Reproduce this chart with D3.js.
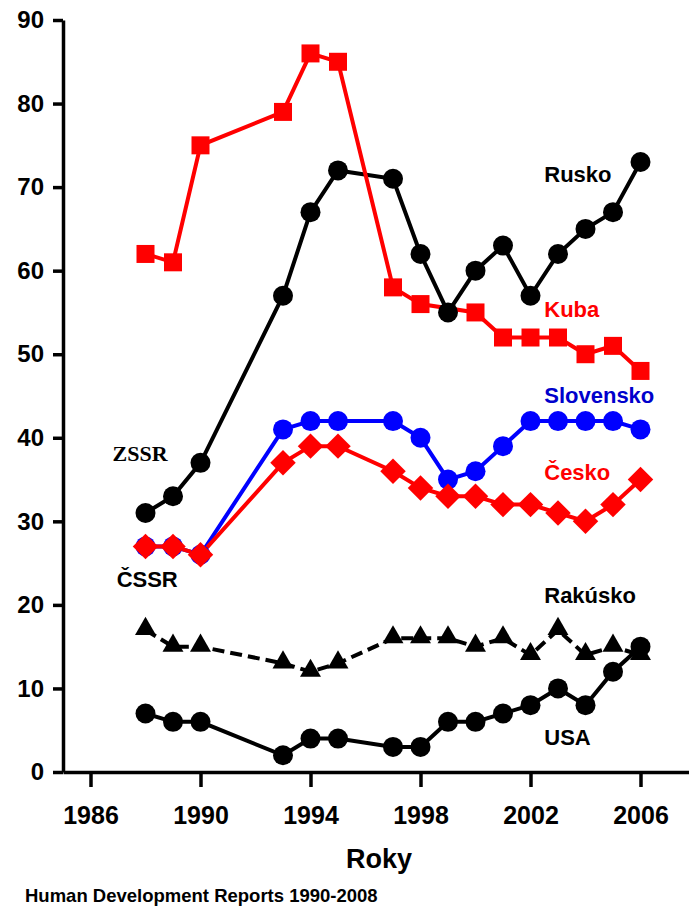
<!DOCTYPE html>
<html>
<head>
<meta charset="utf-8">
<script src="https://cdn.jsdelivr.net/npm/d3@7"></script>
<style>
  html, body { margin: 0; padding: 0; background: #fff; }
  svg { display: block; }
  text { font-family: "Liberation Sans", Arial, sans-serif; font-weight: bold; }
</style>
</head>
<body>
<svg id="chart" width="689" height="911"></svg>
<script>
// ---------- data ----------
const yearsMain = [1988, 1989, 1990, 1993, 1994, 1995, 1997, 1998, 1999, 2000, 2001, 2002, 2003, 2004, 2005, 2006];
const yearsKuba = [1988, 1989, 1990, 1993, 1994, 1995, 1997, 1998, 2000, 2001, 2002, 2003, 2004, 2005, 2006];

const kubaValues      = [62, 61, 75, 79, 86, 85, 58, 56, 55, 52, 52, 52, 50, 51, 48];
const ruskoValues     = [31, 33, 37, 57, 67, 72, 71, 62, 55, 60, 63, 57, 62, 65, 67, 73];
const slovenskoValues = [27, 27, 26, 41, 42, 42, 42, 40, 35, 36, 39, 42, 42, 42, 42, 41];
const ceskoValues     = [27, 27, 26, 37, 39, 39, 36, 34, 33, 33, 32, 32, 31, 30, 32, 35];
const rakuskoValues   = [17, 15, 15, 13, 12, 13, 16, 16, 16, 15, 16, 14, 17, 14, 15, 14];
const usaValues       = [7, 6, 6, 2, 4, 4, 3, 3, 6, 6, 7, 8, 10, 8, 12, 15];

const xTickValues = [1986, 1990, 1994, 1998, 2002, 2006];
const yTickValues = [0, 10, 20, 30, 40, 50, 60, 70, 80, 90];

const seriesLabels = [
  { text: "Rusko",     year: 2002.5, value: 70.6, color: "#000000", serif: false },
  { text: "Kuba",      year: 2002.5, value: 54.5, color: "#ff0000", serif: false },
  { text: "Slovensko", year: 2002.5, value: 44.2, color: "#0000cc", serif: false },
  { text: "Česko",     year: 2002.5, value: 34.9, color: "#ff0000", serif: false },
  { text: "Rakúsko",   year: 2002.5, value: 20.2, color: "#000000", serif: false },
  { text: "USA",       year: 2002.5, value: 3.2,  color: "#000000", serif: false },
  { text: "ZSSR",      year: 1986.8, value: 37.2, color: "#000000", serif: true },
  { text: "ČSSR",      year: 1986.95, value: 22.2, color: "#000000", serif: false }
];

// ---------- build series ----------
const zip = (ys, vs) => ys.map((y, i) => ({ year: y, value: vs[i] }));
const series = {
  rusko:     { data: zip(yearsMain, ruskoValues),     color: "#000000", marker: "circle",   dash: null },
  kuba:      { data: zip(yearsKuba, kubaValues),      color: "#ff0000", marker: "square",   dash: null },
  slovensko: { data: zip(yearsMain, slovenskoValues), color: "#0000ff", marker: "circle",   dash: null },
  cesko:     { data: zip(yearsMain, ceskoValues),     color: "#ff0000", marker: "diamond",  dash: null },
  rakusko:   { data: zip(yearsMain, rakuskoValues),   color: "#000000", marker: "triangle", dash: "12,6" },
  usa:       { data: zip(yearsMain, usaValues),       color: "#000000", marker: "circle",   dash: null }
};

// ---------- scales ----------
const svg = d3.select("#chart");
const x = d3.scaleLinear().domain([1985, 2008]).range([63, 695.5]);
const y = d3.scaleLinear().domain([0, 90]).range([772, 20]);

// ---------- axes ----------
const yAxis = svg.append("g")
  .attr("transform", `translate(${x(1985)},0)`)
  .call(d3.axisLeft(y).tickValues(yTickValues).tickSize(10).tickSizeOuter(0).tickPadding(9).tickFormat(d3.format("d")));
yAxis.select(".domain").attr("stroke", "#000").attr("stroke-width", 3.5);
yAxis.selectAll(".tick line").attr("stroke", "#000").attr("stroke-width", 3.5);
yAxis.selectAll(".tick text")
  .attr("fill", "#000")
  .style("font-size", "24px")
  .style("font-family", "'Liberation Sans', Arial, sans-serif")
  .style("font-weight", "bold");

const xAxis = svg.append("g")
  .attr("transform", `translate(0,${y(0)})`)
  .call(d3.axisBottom(x).tickValues(xTickValues).tickSize(15).tickSizeOuter(0).tickPadding(19).tickFormat(d3.format("d")));
xAxis.select(".domain").attr("stroke", "#000").attr("stroke-width", 3.5);
xAxis.selectAll(".tick line").attr("stroke", "#000").attr("stroke-width", 3.5);
xAxis.selectAll(".tick text")
  .attr("fill", "#000")
  .style("font-size", "25px")
  .style("font-family", "'Liberation Sans', Arial, sans-serif")
  .style("font-weight", "bold");

// ---------- lines ----------
const line = d3.line().x(d => x(d.year)).y(d => y(d.value));
const lineOrder = ["usa", "rakusko", "slovensko", "cesko", "rusko", "kuba"];
lineOrder.forEach(k => {
  const s = series[k];
  svg.append("path")
    .datum(s.data)
    .attr("d", line)
    .attr("fill", "none")
    .attr("stroke", s.color)
    .attr("stroke-width", 4)
    .attr("stroke-dasharray", s.dash);
});

// ---------- markers ----------
const symbolFor = {
  circle:   d3.symbol().type(d3.symbolCircle).size(Math.PI * 10 * 10),
  square:   d3.symbol().type(d3.symbolSquare).size(18 * 18),
  diamond:  d3.symbol().type(d3.symbolSquare).size(18 * 18),
  triangle: d3.symbol().type(d3.symbolTriangle).size(190)
};
const markerOrder = ["kuba", "rusko", "slovensko", "cesko", "rakusko", "usa"];
markerOrder.forEach(k => {
  const s = series[k];
  svg.append("g").selectAll("path")
    .data(s.data)
    .join("path")
    .attr("d", symbolFor[s.marker])
    .attr("transform", d => `translate(${x(d.year)},${y(d.value)})` + (s.marker === "diamond" ? " rotate(45)" : "") + (s.marker === "triangle" ? " translate(0,-1)" : ""))
    .attr("fill", s.color);
});

// ---------- series labels ----------
svg.append("g").selectAll("text")
  .data(seriesLabels)
  .join("text")
  .attr("x", d => x(d.year))
  .attr("y", d => y(d.value))
  .attr("fill", d => d.color)
  .style("font-size", "22px")
  .style("font-family", d => d.serif ? "'Liberation Serif', 'Times New Roman', serif" : "'Liberation Sans', Arial, sans-serif")
  .style("font-weight", "bold")
  .text(d => d.text);

// ---------- titles ----------
svg.append("text")
  .attr("x", 379)
  .attr("y", 868)
  .attr("text-anchor", "middle")
  .style("font-size", "27px")
  .text("Roky");

svg.append("text")
  .attr("x", 25)
  .attr("y", 902)
  .style("font-size", "18.5px")
  .text("Human Development Reports 1990-2008");
</script>
</body>
</html>
